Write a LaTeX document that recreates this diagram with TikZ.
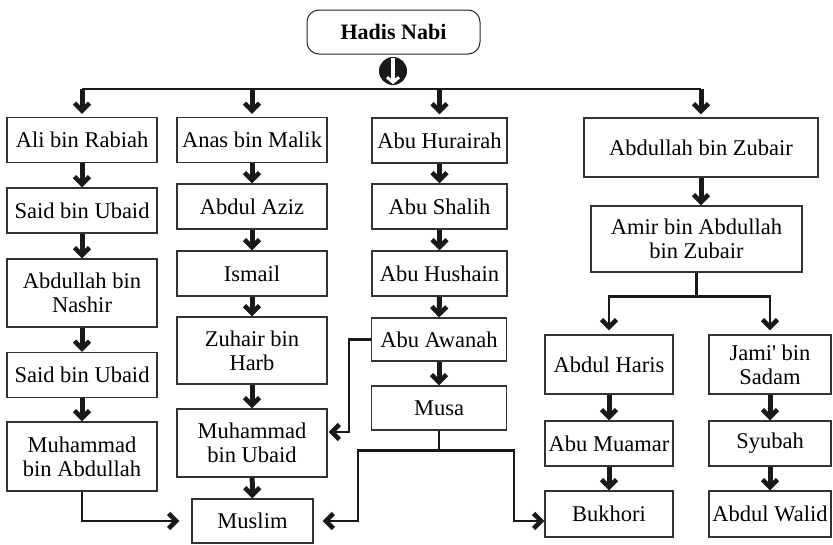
\documentclass[tikz,border=0pt]{standalone}
\usepackage{fontspec}
\setmainfont{Liberation Serif}[Ligatures=TeXOff]
\usepackage{tikz}
\usetikzlibrary{arrows.meta,calc}

\begin{document}
\begin{tikzpicture}[
    x=1pt, y=-1pt,
    root/.style={draw=black!85, line width=1pt, rounded corners=12pt, minimum width=173pt, minimum height=44pt, font=\fontsize{22}{24}\selectfont\bfseries},
    namebox/.style={draw=black!80, line width=1.2pt, minimum height=45pt, inner sep=2pt, align=center, font=\fontsize{22.5}{24}\selectfont},
    flowarrow/.style={-{Straight Barb[length=7.5pt,width=15pt,line width=4.6pt]}, line width=5pt, draw=black!90},
    link/.style={line width=2.6pt, draw=black!90},
    linkarrow/.style={link, -{Straight Barb[length=7.5pt,width=15pt,line width=4.6pt]}}
]
\useasboundingbox (0,0) rectangle (833,544);

\node[root] (hadis) at (393.5,32) {Hadis Nabi};
\node[circle, fill=black!90, minimum size=28pt, inner sep=0pt] (hub) at (393,71) {};

% first column
\node[namebox, minimum width=150pt] (ali) at (82,140) {Ali bin Rabiah};
\node[namebox, minimum width=150pt] (said1) at (82,210.5) {Said bin Ubaid};
\node[namebox, minimum width=150pt, minimum height=68pt] (nashir) at (82,293) {Abdullah bin\\Nashir};
\node[namebox, minimum width=150pt] (said2) at (82,375) {Said bin Ubaid};
\node[namebox, minimum width=150pt, minimum height=69pt] (mabdullah) at (82,456.5) {Muhammad\\bin Abdullah};

% second column
\node[namebox, minimum width=150pt] (anas) at (252,140) {Anas bin Malik};
\node[namebox, minimum width=150pt] (aziz) at (252,206.5) {Abdul Aziz};
\node[namebox, minimum width=150pt] (ismail) at (252,273.5) {Ismail};
\node[namebox, minimum width=150pt, minimum height=67pt] (zuhair) at (252,350.5) {Zuhair bin\\Harb};
\node[namebox, minimum width=150pt, minimum height=68pt] (mubaid) at (252,443) {Muhammad\\bin Ubaid};
\node[namebox, minimum width=121pt, minimum height=44pt] (muslim) at (252.5,521) {Muslim};

% third column
\node[namebox, minimum width=135pt] (hurairah) at (439.5,140.5) {Abu Hurairah};
\node[namebox, minimum width=135pt] (shalih) at (439.5,206.5) {Abu Shalih};
\node[namebox, minimum width=135pt] (hushain) at (439.5,273.5) {Abu Hushain};
\node[namebox, minimum width=135pt, minimum height=43pt] (awanah) at (439,339.5) {Abu Awanah};
\node[namebox, minimum width=135pt, minimum height=44pt] (musa) at (439,408) {Musa};

% fourth column
\node[namebox, minimum width=234pt, minimum height=59pt] (zubair) at (701,147.5) {Abdullah bin Zubair};
\node[namebox, minimum width=211pt, minimum height=66pt] (amir) at (696.5,239) {Amir bin Abdullah\\bin Zubair};
\node[namebox, minimum width=128pt, minimum height=59pt] (haris) at (609,364.5) {Abdul Haris};
\node[namebox, minimum width=122pt, minimum height=59pt] (jami) at (770,364.5) {Jami' bin\\Sadam};
\node[namebox, minimum width=128pt] (muamar) at (609,443.5) {Abu Muamar};
\node[namebox, minimum width=122pt] (syubah) at (770,443.5) {Syubah};
\node[namebox, minimum width=128pt, minimum height=46pt] (bukhori) at (609,514) {Bukhori};
\node[namebox, minimum width=122pt, minimum height=46pt] (walid) at (770,514) {Abdul Walid};

% symbol under the root
\draw[white, line width=4pt, -{Straight Barb[length=5pt,width=12pt,line width=3pt]}] ([yshift=-1pt]hub.north) -- ([yshift=1pt]hub.south);

% bus to the four chains
\coordinate (bus) at (393,89);
\draw[link] (ali.north |- bus) -- (zubair.north |- bus);
\draw[flowarrow] (ali.north |- bus) -- ([yshift=3pt]ali.north);
\draw[flowarrow] (anas.north |- bus) -- ([yshift=3pt]anas.north);
\draw[flowarrow] (hurairah.north |- bus) -- ([yshift=3pt]hurairah.north);
\draw[flowarrow] (zubair.north |- bus) -- ([yshift=3pt]zubair.north);

\draw[flowarrow] (ali) -- (said1);
\draw[flowarrow] (said1) -- (nashir);
\draw[flowarrow] (nashir) -- (said2);
\draw[flowarrow] (said2) -- (mabdullah);

\draw[flowarrow] (anas) -- (aziz);
\draw[flowarrow] (aziz) -- (ismail);
\draw[flowarrow] (ismail) -- (zuhair);
\draw[flowarrow] (zuhair) -- (mubaid);
\draw[flowarrow] (mubaid) -- (muslim);

\draw[flowarrow] (hurairah) -- (shalih);
\draw[flowarrow] (shalih) -- (hushain);
\draw[flowarrow] (hushain.south) -- (awanah.north);
\draw[flowarrow] (awanah) -- (musa);

\draw[flowarrow] (zubair.south) -- (amir.north -| zubair.south);
\draw[flowarrow] (haris) -- (muamar);
\draw[flowarrow] (muamar) -- (bukhori);
\draw[flowarrow] (jami) -- (syubah);
\draw[flowarrow] (syubah) -- (walid);

% elbow connectors
\draw[linkarrow] (amir.south) -- ++(0,24) -| ([yshift=4pt]haris.north);
\draw[linkarrow] (amir.south) -- ++(0,24) -| ([yshift=4pt]jami.north);
\draw[linkarrow] (mabdullah.south) |- ([xshift=-12pt]muslim.west);
\draw[linkarrow] (awanah.west) -- ++(-22,0) |- ([yshift=11pt,xshift=1pt]mubaid.east);
\coordinate (musaL) at (358,521);
\coordinate (musaR) at (514,521);
\draw[linkarrow, shorten >=9pt] (musa.south) -- ++(0,20) -| (musaL) -- (muslim.east |- musaL);
\draw[linkarrow] (musa.south) -- ++(0,20) -| (musaR) -- (bukhori.west |- musaR);
\end{tikzpicture}
\end{document}
